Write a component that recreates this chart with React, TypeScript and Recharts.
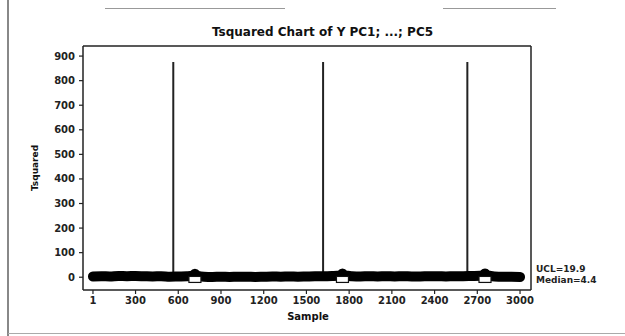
import React from "react";
import {
  ComposedChart,
  Line,
  Scatter,
  XAxis,
  YAxis,
  ReferenceLine,
} from "recharts";

const titleText = "Tsquared Chart of Y PC1; ...; PC5";
const xLabel = "Sample";
const yLabel = "Tsquared";

const xTicks = [1, 300, 600, 900, 1200, 1500, 1800, 2100, 2400, 2700, 3000];
const yTicks = [0, 100, 200, 300, 400, 500, 600, 700, 800, 900];
const xDomain = [-69, 3077];
const yDomain = [-52, 941];

// thick band of ordinary T² values
const bandSamples = [
  1, 60, 120, 180, 240, 300, 360, 420, 480, 540, 600, 660, 700, 717, 735, 780,
  840, 900, 960, 1020, 1080, 1140, 1200, 1260, 1320, 1380, 1440, 1500, 1560,
  1620, 1680, 1735, 1753, 1770, 1820, 1880, 1940, 2000, 2060, 2120, 2180, 2240,
  2300, 2360, 2420, 2480, 2540, 2600, 2660, 2720, 2740, 2754, 2770, 2820, 2880,
  2940, 3000,
];
const bandValues = [
  3, 4, 3, 5, 4, 5, 4, 3, 4, 2, 3, 4, 6, 14, 6, 2, 1, 2, 1, 2, 2, 1, 2, 3, 2, 3,
  2, 3, 4, 4, 5, 7, 15, 7, 4, 3, 4, 3, 4, 3, 4, 3, 3, 4, 4, 3, 4, 4, 5, 6, 9,
  15, 8, 3, 2, 2, 1,
];

// out-of-control spikes
const spikeSamples = [565, 1617, 2630];
const spikeValues = [876, 876, 876];

// hollow boxes inside the band
const boxSamples = [717, 1753, 2754];
const boxValues = [-9, -9, -9];

const ucl = 19.9;
const median = 4.4;

const bandData = bandSamples.map((x, i) => ({ x, y: bandValues[i] }));
const spikeData = spikeSamples.flatMap((x, i) => [
  { x, y: 0 },
  { x, y: spikeValues[i] },
  { x, y: 0 },
]);
const boxData = boxSamples.map((x, i) => ({ x, y: boxValues[i] }));

const font = "'DejaVu Sans', sans-serif";
const tickStyle = { fontSize: 10, fontFamily: font, fontWeight: 700, fill: "#222" };

const BoxShape = (props: any) => {
  const { cx, cy } = props;
  return (
    <rect x={cx - 6} y={cy - 3} width={12} height={6} fill="#fff" stroke="#111" strokeWidth={1.2} />
  );
};

export default function App() {
  return (
    <div style={{ position: "absolute", left: 0, top: 0, width: 625, height: 336, background: "#fff" }}>
      {/* scan artifacts */}
      <div style={{ position: "absolute", left: 7, top: 0, width: 2, height: 336, background: "#888" }} />
      <div style={{ position: "absolute", left: 105, top: 8, width: 180, height: 1, background: "#999" }} />
      <div style={{ position: "absolute", left: 443, top: 8, width: 113, height: 1, background: "#999" }} />
      <div style={{ position: "absolute", left: 8, top: 333, width: 617, height: 1, background: "#aaa" }} />
      <div
        style={{
          position: "absolute",
          left: 0,
          width: 625,
          top: 25,
          textAlign: "center",
          paddingLeft: 20,
          boxSizing: "border-box",
          fontFamily: font,
          fontWeight: 700,
          fontSize: 12,
          color: "#111",
        }}
      >
        {titleText}
      </div>
      <div
        style={{
          position: "absolute",
          left: 283,
          width: 50,
          top: 311,
          textAlign: "center",
          fontFamily: font,
          fontWeight: 700,
          fontSize: 10,
          color: "#111",
        }}
      >
        {xLabel}
      </div>
      <div
        style={{
          position: "absolute",
          left: 35,
          top: 168,
          transform: "translate(-50%, -50%) rotate(-90deg)",
          fontFamily: font,
          fontWeight: 700,
          fontSize: 9,
          color: "#111",
          whiteSpace: "nowrap",
        }}
      >
        {yLabel}
      </div>
      <div style={{ position: "absolute", left: 0, top: 0 }}>
        <ComposedChart width={625} height={336} margin={{ top: 46, right: 94, bottom: 16, left: 43 }}>
          <XAxis
            dataKey="x"
            type="number"
            domain={xDomain}
            ticks={xTicks}
            interval={0}
            allowDataOverflow
            tick={tickStyle}
            tickSize={4}
            tickMargin={3}
            height={30}
            stroke="#222"
            axisLine={{ stroke: "#222", strokeWidth: 1.5 }}
            tickLine={{ stroke: "#222", strokeWidth: 1.2 }}
          />
          <YAxis
            dataKey="y"
            type="number"
            domain={yDomain}
            ticks={yTicks}
            interval={0}
            allowDataOverflow
            tick={tickStyle}
            tickSize={4}
            tickMargin={4}
            width={40}
            axisLine={{ stroke: "#222", strokeWidth: 1.5 }}
            tickLine={{ stroke: "#222", strokeWidth: 1.2 }}
          />
          {/* plot frame: top and right edges */}
          <ReferenceLine y={yDomain[1]} stroke="#222" strokeWidth={1.5} ifOverflow="extendDomain" />
          <ReferenceLine x={xDomain[1]} stroke="#222" strokeWidth={1.5} ifOverflow="extendDomain" />
          <Line
            data={spikeData}
            dataKey="y"
            type="linear"
            stroke="#222"
            strokeWidth={2}
            dot={false}
            isAnimationActive={false}
          />
          <Line
            data={bandData}
            dataKey="y"
            type="monotone"
            stroke="#000"
            strokeWidth={10}
            strokeLinecap="round"
            strokeLinejoin="round"
            dot={false}
            isAnimationActive={false}
          />
          <Scatter data={boxData} dataKey="y" shape={<BoxShape />} isAnimationActive={false} />
          <ReferenceLine
            y={ucl}
            stroke="none"
            label={{ value: `UCL=${ucl}`, position: "right", dy: -4, fontSize: 9, fontFamily: font, fontWeight: 700, fill: "#222" }}
          />
          <ReferenceLine
            y={median}
            stroke="none"
            label={{ value: `Median=${median}`, position: "right", dy: 4, fontSize: 9, fontFamily: font, fontWeight: 700, fill: "#222" }}
          />
        </ComposedChart>
      </div>
    </div>
  );
}
